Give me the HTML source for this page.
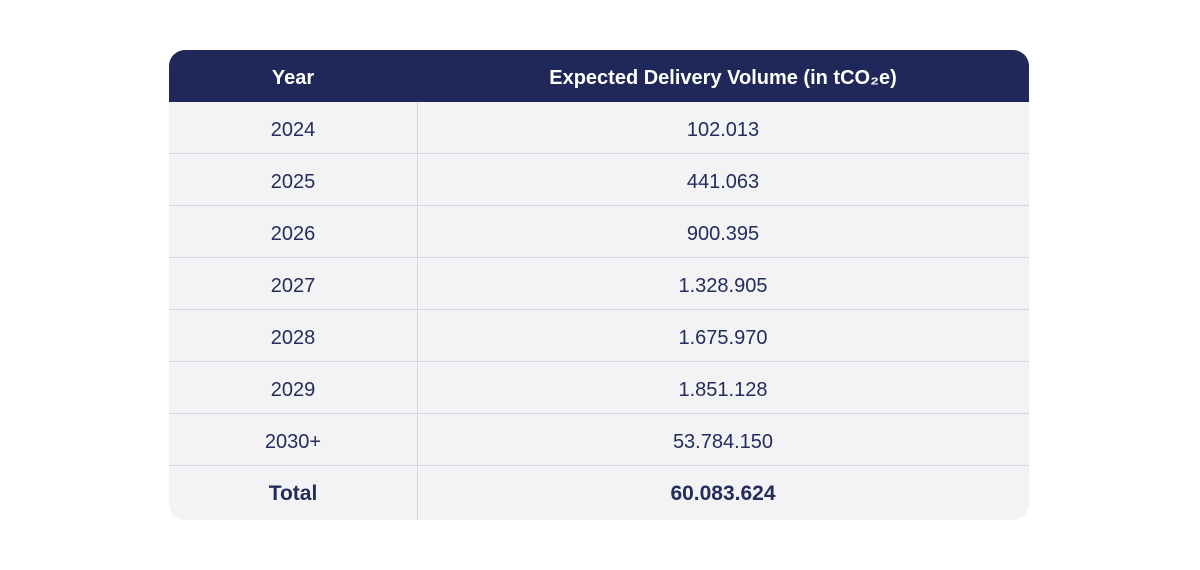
<!DOCTYPE html>
<html><head><meta charset="utf-8"><style>
body{margin:0;width:1200px;height:570px;background:#fff;font-family:"Liberation Sans",sans-serif;position:relative;overflow:hidden}
.t{position:absolute;left:169px;top:50px;width:860px;height:470px;border-radius:16px;overflow:hidden;background:#f3f3f6}
.h{position:absolute;left:0;top:0;width:860px;height:52px;background:#1f2858;color:#fff;font-weight:bold;font-size:20px}
.c{position:absolute;text-align:center;line-height:52px;top:2px}
.c1{left:0;width:248px}.c2{left:248px;width:612px}
.r{position:absolute;left:0;width:860px;height:52px;color:#232c5c;font-size:20px;border-bottom:1px solid #d4d4dc;box-sizing:border-box}
.v{position:absolute;left:248px;top:52px;width:1px;height:418px;background:#d4d4dc}
</style></head><body>
<div class="t">
<div class="h"><div class="c c1">Year</div><div class="c c2">Expected Delivery Volume (in tCO₂e)</div></div>
<div class="r" style="top:52px"><div class="c c1">2024</div><div class="c c2">102.013</div></div>
<div class="r" style="top:104px"><div class="c c1">2025</div><div class="c c2">441.063</div></div>
<div class="r" style="top:156px"><div class="c c1">2026</div><div class="c c2">900.395</div></div>
<div class="r" style="top:208px"><div class="c c1">2027</div><div class="c c2">1.328.905</div></div>
<div class="r" style="top:260px"><div class="c c1">2028</div><div class="c c2">1.675.970</div></div>
<div class="r" style="top:312px"><div class="c c1">2029</div><div class="c c2">1.851.128</div></div>
<div class="r" style="top:364px"><div class="c c1">2030+</div><div class="c c2">53.784.150</div></div>
<div class="r" style="top:416px;border:none;height:54px;font-weight:bold;font-size:21px"><div class="c c1">Total</div><div class="c c2">60.083.624</div></div>
<div class="v"></div>
</div>
</body></html>
